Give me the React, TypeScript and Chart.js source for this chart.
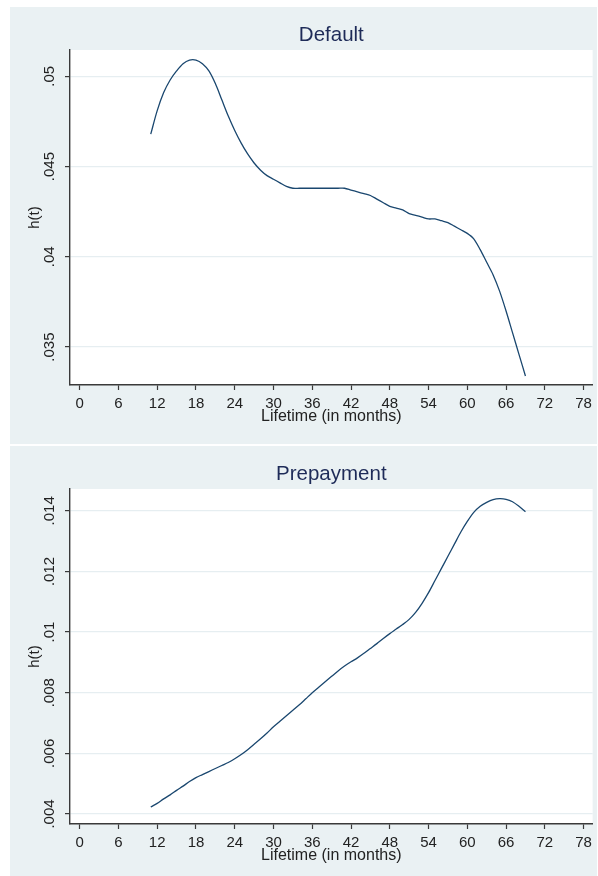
import React, { useEffect, useRef } from "react";
import { Chart, registerables } from "chart.js";

Chart.register(...registerables);

// ---------- data ----------
const months = [
  11, 12, 13, 14, 15, 16, 17, 18, 19, 20, 21, 22, 23, 24, 25, 26, 27, 28, 29, 30,
  31, 32, 33, 34, 35, 36, 37, 38, 39, 40, 41, 42, 43, 44, 45, 46, 47, 48, 49, 50,
  51, 52, 53, 54, 55, 56, 57, 58, 59, 60, 61, 62, 63, 64, 65, 66, 67, 68, 69,
];

const defaultHazard = [
  0.0468, 0.0481, 0.0491, 0.0498, 0.0503, 0.0507, 0.0509, 0.0509, 0.0507, 0.0503,
  0.0496, 0.0487, 0.0478, 0.047, 0.0463, 0.0457, 0.0452, 0.0448, 0.0445, 0.0443,
  0.0441, 0.0439, 0.0438, 0.0438, 0.0438, 0.0438, 0.0438, 0.0438, 0.0438, 0.0438,
  0.0438, 0.0437, 0.0436, 0.0435, 0.0434, 0.0432, 0.043, 0.0428, 0.0427, 0.0426,
  0.0424, 0.0423, 0.0422, 0.0421, 0.0421, 0.042, 0.0419, 0.0417, 0.0415, 0.0413,
  0.041, 0.0404, 0.0397, 0.039, 0.0381, 0.037, 0.0358, 0.0346, 0.0334,
];

const prepaymentHazard = [
  0.00423, 0.00435, 0.0045, 0.00463, 0.00478, 0.00492, 0.00507, 0.0052, 0.0053, 0.0054,
  0.0055, 0.0056, 0.0057, 0.00582, 0.00596, 0.00612, 0.0063, 0.00648, 0.00667, 0.00688,
  0.00706, 0.00724, 0.00742, 0.0076, 0.0078, 0.008, 0.00818, 0.00836, 0.00854, 0.00872,
  0.00888, 0.00902, 0.00915, 0.0093, 0.00946, 0.00962, 0.00979, 0.00995, 0.0101, 0.01025,
  0.01042, 0.01065, 0.01095, 0.0113, 0.0117, 0.0121, 0.0125, 0.0129, 0.0133, 0.01365,
  0.01395, 0.01415, 0.01428, 0.01437, 0.0144, 0.01438, 0.0143, 0.01415, 0.01397,
];

const xTickValues = [0, 6, 12, 18, 24, 30, 36, 42, 48, 54, 60, 66, 72, 78];
const defaultYTicks = [0.035, 0.04, 0.045, 0.05];
const defaultYTickLabels = [".035", ".04", ".045", ".05"];
const prepaymentYTicks = [0.004, 0.006, 0.008, 0.01, 0.012, 0.014];
const prepaymentYTickLabels = [".004", ".006", ".008", ".01", ".012", ".014"];

const xAxisTitle = "Lifetime (in months)";
const yAxisTitle = "h(t)";
const defaultTitle = "Default";
const prepaymentTitle = "Prepayment";

// ---------- styles ----------
const FONT = "'Liberation Sans', Arial, Helvetica, sans-serif";
const PANEL_BG = "#eaf1f3";
const GRID = "#e6eef1";
const AXIS = "#3a3a3a";
const LINE = "#1a476f";
const TITLE_COLOR = "#1e2b58";
const TEXT = "#222222";

const bgPlugin = {
  id: "panelBg",
  beforeDraw(chart: any) {
    const { ctx, chartArea, width, height } = chart;
    ctx.save();
    ctx.fillStyle = PANEL_BG;
    ctx.fillRect(0, 0, width, height);
    ctx.fillStyle = "#ffffff";
    ctx.fillRect(
      chartArea.left,
      chartArea.top,
      chartArea.right - chartArea.left,
      chartArea.bottom - chartArea.top
    );
    ctx.restore();
  },
};

type PanelProps = {
  title: string;
  values: number[];
  yTicks: number[];
  yTickLabels: string[];
  yMin: number;
  yMax: number;
  width: number;
  height: number;
  left: number;
  top: number;
  xAxisHeight: number;
  xTitlePadBottom: number;
};

function Panel(p: PanelProps) {
  const ref = useRef<HTMLCanvasElement | null>(null);
  useEffect(() => {
    if (!ref.current) return;
    const data = months.map((m, i) => ({ x: m, y: p.values[i] }));
    const chart = new Chart(ref.current, {
      type: "line",
      data: {
        datasets: [
          {
            data,
            borderColor: LINE,
            borderWidth: 1.3,
            pointRadius: 0,
            tension: 0.3,
            fill: false,
          },
        ],
      },
      options: {
        responsive: false,
        animation: false,
        events: [],
        layout: { padding: { left: 0, right: 2, top: 0, bottom: 0 } },
        plugins: {
          legend: { display: false },
          tooltip: { enabled: false },
          title: {
            display: true,
            text: p.title,
            fullSize: false,
            color: TITLE_COLOR,
            font: { size: 20.5, family: FONT, weight: "normal" as any },
            padding: { top: 16, bottom: 2.4 },
          },
        },
        scales: {
          x: {
            type: "linear",
            min: -1.5,
            max: 79.4,
            afterBuildTicks: (s: any) => {
              s.ticks = xTickValues.map((v) => ({ value: v }));
            },
            afterFit: (s: any) => {
              s.height = p.xAxisHeight;
            },
            ticks: {
              autoSkip: false,
              maxRotation: 0,
              minRotation: 0,
              padding: 5,
              color: TEXT,
              font: { size: 15, family: FONT },
              callback: (v: any) => String(v),
            },
            grid: {
              display: true,
              drawOnChartArea: false,
              drawTicks: true,
              tickLength: 5,
              tickColor: AXIS,
              tickWidth: 1.2,
            },
            border: { display: true, color: AXIS, width: 1.4 },
            title: {
              display: true,
              text: xAxisTitle,
              color: TEXT,
              font: { size: 16, family: FONT },
              padding: { top: 0, bottom: p.xTitlePadBottom },
            },
          },
          y: {
            type: "linear",
            min: p.yMin,
            max: p.yMax,
            afterBuildTicks: (s: any) => {
              s.ticks = p.yTicks.map((v) => ({ value: v }));
            },
            afterFit: (s: any) => {
              s.width = 60;
            },
            ticks: {
              minRotation: 90,
              maxRotation: 90,
              crossAlign: "center",
              padding: 1,
              color: TEXT,
              font: { size: 15, family: FONT },
              callback: (v: any) => {
                const idx = p.yTicks.findIndex((t) => Math.abs(t - Number(v)) < 1e-9);
                return idx >= 0 ? p.yTickLabels[idx] : "";
              },
            },
            grid: {
              display: true,
              drawOnChartArea: true,
              drawTicks: true,
              tickLength: 5,
              color: GRID,
              lineWidth: 1.2,
              tickColor: AXIS,
              tickWidth: 1.2,
            },
            border: { display: true, color: AXIS, width: 1.4 },
            title: {
              display: true,
              text: yAxisTitle,
              color: TEXT,
              font: { size: 15, family: FONT },
              padding: { top: 16, bottom: 0 },
            },
          },
        },
      },
      plugins: [bgPlugin],
    } as any);
    return () => chart.destroy();
  }, []);

  return (
    <div
      style={{
        position: "absolute",
        left: p.left,
        top: p.top,
        width: p.width,
        height: p.height,
      }}
    >
      <canvas
        ref={ref}
        width={p.width}
        height={p.height}
        style={{ display: "block", width: p.width, height: p.height }}
      />
    </div>
  );
}

export default function App() {
  return (
    <div
      style={{
        position: "absolute",
        left: 0,
        top: 0,
        width: 598,
        height: 876,
        background: "#ffffff",
        overflow: "hidden",
      }}
    >
      <Panel
        title={defaultTitle}
        values={defaultHazard}
        yTicks={defaultYTicks}
        yTickLabels={defaultYTickLabels}
        yMin={0.0329}
        yMax={0.05146}
        width={587}
        height={437}
        left={10}
        top={7}
        xAxisHeight={59}
        xTitlePadBottom={18}
      />
      <Panel
        title={prepaymentTitle}
        values={prepaymentHazard}
        yTicks={prepaymentYTicks}
        yTickLabels={prepaymentYTickLabels}
        yMin={0.00367}
        yMax={0.01472}
        width={587}
        height={430}
        left={10}
        top={446}
        xAxisHeight={52}
        xTitlePadBottom={11}
      />
    </div>
  );
}
